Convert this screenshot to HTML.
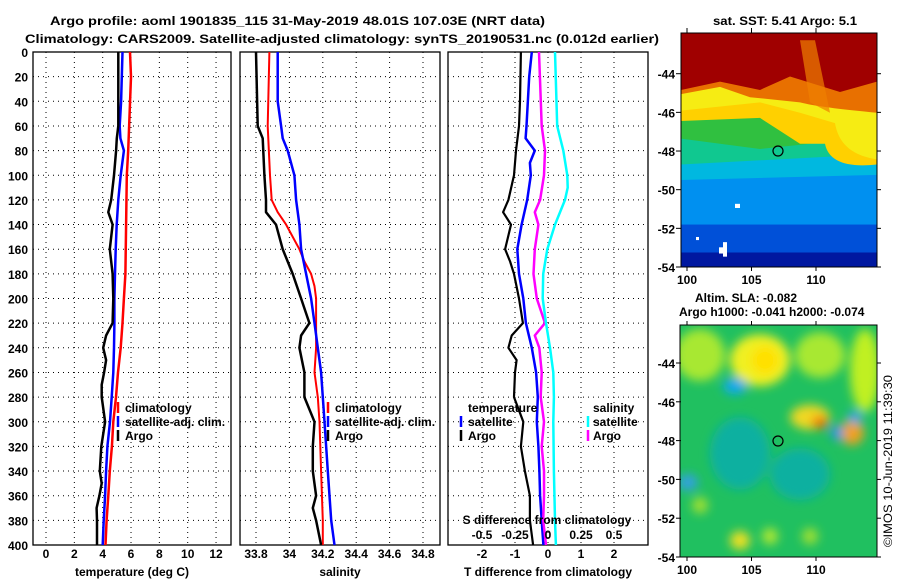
<!DOCTYPE html>
<html><head><meta charset="utf-8"><style>
html,body{margin:0;padding:0;background:#fff;}
svg{display:block;font-family:"Liberation Sans",sans-serif;font-weight:bold;}
text{font-size:12px;fill:#000;}
</style></head><body>
<svg id="c" width="900" height="580" viewBox="0 0 900 580" xmlns="http://www.w3.org/2000/svg">
<defs>
<filter id="blur4" x="-20%" y="-20%" width="140%" height="140%"><feGaussianBlur stdDeviation="5"/></filter>
<clipPath id="m1"><rect x="681" y="33" width="196" height="226"/></clipPath>
<clipPath id="m2"><rect x="680" y="316" width="197" height="224"/></clipPath>
</defs>
<text x="50" y="25" textLength="495" lengthAdjust="spacingAndGlyphs">Argo profile: aoml 1901835_115 31-May-2019 48.01S 107.03E (NRT data)</text>
<text x="25" y="43" textLength="634" lengthAdjust="spacingAndGlyphs">Climatology: CARS2009. Satellite-adjusted climatology: synTS_20190531.nc (0.012d earlier)</text>
<text x="713" y="25" textLength="144" lengthAdjust="spacingAndGlyphs">sat. SST: 5.41 Argo: 5.1</text>

<!-- SST map -->
<g transform="translate(0,33) scale(1,1.0354) translate(0,-33)">
<g clip-path="url(#m1)">
<rect x="681" y="33" width="196" height="226" fill="#0018a0"/>
<rect x="681" y="33" width="196" height="212" fill="#0050d8"/>
<rect x="681" y="33" width="196" height="185" fill="#0090f0"/>
<path d="M681,33H877V170L681,175Z" fill="#00b8e0"/>
<path d="M681,33H877V150L681,160Z" fill="#10c890"/>
<path d="M681,33H877V130Q830,135 810,140L760,145L681,135Z" fill="#30c040"/>
<path d="M681,33H877V160Q830,165 825,140L800,140L760,115L681,118Z" fill="#ffd000"/>
<path d="M681,33H877V155Q840,150 835,120L800,110L760,100L681,108Z" fill="#f0ff20" opacity="0.6"/>
<path d="M681,33H877V110Q820,105 800,100L750,95L720,85L681,92Z" fill="#e87000"/>
<path d="M681,33H877V80L840,90L790,75L760,88L720,80L681,88Z" fill="#a00000"/>
<path d="M800,40L815,40L830,110L810,100Z" fill="#f08000" opacity="0.7"/>
<rect x="735" y="198" width="5" height="4" fill="#fff"/>
<rect x="719" y="240" width="6" height="6" fill="#fff"/>
<rect x="723" y="235" width="4" height="14" fill="#fff"/>
<rect x="696" y="230" width="3" height="3" fill="#fff"/>
</g>
</g>
<rect x="681" y="33" width="196" height="234" fill="none" stroke="#000"/>
<circle cx="778" cy="151" r="5" fill="none" stroke="#000" stroke-width="1.2"/>

<text x="695" y="302">Altim. SLA: -0.082</text>
<text x="679" y="316">Argo h1000: -0.041 h2000: -0.074</text>

<!-- SLA map -->
<g transform="translate(0,325) scale(1,1.0357) translate(0,-316)">
<g clip-path="url(#m2)">
<rect x="680" y="316" width="197" height="224" fill="#20c060"/>
<g filter="url(#blur4)">
<ellipse cx="700" cy="345" rx="25" ry="25" fill="#a8e830"/>
<ellipse cx="760" cy="350" rx="30" ry="25" fill="#f0f020"/>
<ellipse cx="765" cy="350" rx="14" ry="14" fill="#ffe000"/>
<ellipse cx="820" cy="345" rx="25" ry="22" fill="#a8e830"/>
<ellipse cx="865" cy="360" rx="15" ry="40" fill="#c0f020"/>
<ellipse cx="735" cy="375" rx="12" ry="8" fill="#10a8f0"/>
<ellipse cx="810" cy="405" rx="20" ry="12" fill="#f0d820"/>
<ellipse cx="820" cy="410" rx="8" ry="6" fill="#f07000"/>
<ellipse cx="852" cy="420" rx="12" ry="12" fill="#f0a020"/>
<ellipse cx="837" cy="420" rx="6" ry="7" fill="#2090f0"/>
<ellipse cx="855" cy="405" rx="7" ry="6" fill="#30a0f0"/>
<ellipse cx="740" cy="440" rx="30" ry="35" fill="#10b0a0"/>
<ellipse cx="800" cy="460" rx="30" ry="25" fill="#10b0a0"/>
<ellipse cx="688" cy="468" rx="10" ry="8" fill="#30a0e0"/>
<ellipse cx="740" cy="524" rx="10" ry="9" fill="#f0e020"/>
<ellipse cx="770" cy="520" rx="8" ry="8" fill="#b0e830"/>
<ellipse cx="700" cy="490" rx="8" ry="8" fill="#a0e030"/>
<ellipse cx="810" cy="520" rx="8" ry="8" fill="#a0e030"/>
</g>
</g>
</g>
<rect x="680" y="325" width="197" height="232" fill="none" stroke="#000"/>
<circle cx="778" cy="441" r="5" fill="none" stroke="#000" stroke-width="1.2"/>
<text transform="translate(892,547) rotate(-90)" style="font-weight:normal" textLength="172" lengthAdjust="spacingAndGlyphs">©IMOS 10-Jun-2019 11:39:30</text>

<g id="plots"></g>
</svg>
<script>
// ---- data (depth in m) ----
const depthsTC=[0,20,80,100,140,180,200,220,240,260,280,300,320,340,360,380,400];
const tempClim=[5.93,6.0,5.8,5.7,5.65,5.6,5.5,5.4,5.27,5.08,4.94,4.75,4.65,4.5,4.4,4.28,4.2];
const depthsTS=[0,20,40,60,70,80,100,120,140,160,180,200,220,240,260,280,300,320,340,360,380,400];
const tempSat=[5.4,5.35,5.3,5.2,5.25,5.5,5.27,5.1,4.99,4.92,4.87,4.83,4.83,4.8,4.75,4.64,4.52,4.33,4.24,4.17,4.07,4.0];
const depthsTA=[0,20,40,60,70,80,100,120,130,140,160,180,200,220,230,240,250,260,270,280,300,320,340,350,360,370,380,400];
const tempArgo=[5.1,5.1,5.1,5.1,5.0,4.95,4.8,4.6,4.4,4.7,4.5,4.7,4.75,4.7,4.24,4.04,4.24,4.1,3.93,3.93,4.17,3.9,3.8,3.93,3.77,3.57,3.6,3.6];
const depthsSC=[0,60,100,120,130,140,160,170,180,190,200,240,260,280,300,340,380,400];
const salClim=[33.88,33.87,33.884,33.894,33.93,33.98,34.06,34.09,34.13,34.15,34.16,34.16,34.15,34.17,34.18,34.19,34.2,34.2];
const depthsSS=[0,40,60,70,80,100,120,140,160,180,200,220,240,260,280,300,340,380,400];
const salSat=[33.93,33.93,33.95,33.96,33.99,34.03,34.04,34.06,34.07,34.1,34.13,34.15,34.17,34.19,34.2,34.21,34.23,34.25,34.27];
const depthsSA=[0,60,70,100,120,130,140,160,180,200,220,230,240,260,280,300,320,340,360,370,380,400];
const salArgo=[33.80,33.81,33.84,33.85,33.86,33.86,33.92,33.96,34.02,34.07,34.12,34.07,34.06,34.09,34.09,34.15,34.14,34.14,34.16,34.14,34.16,34.19];
const depthsTD=[0,40,60,80,100,120,130,140,160,170,180,200,220,230,240,250,260,280,300,320,340,360,380,400];
const tDiffArgo=[-0.82,-0.85,-0.88,-0.97,-1.03,-1.2,-1.36,-1.12,-1.3,-1.15,-1.03,-0.88,-0.76,-1.1,-1.2,-0.95,-1.0,-1.03,-0.75,-0.82,-0.7,-0.55,-0.55,-0.45];
const depthsTDS=[0,20,60,70,80,90,100,120,140,160,180,200,220,240,260,280,300,320,340,360,380,400];
const tDiffSat=[-0.49,-0.57,-0.65,-0.68,-0.4,-0.55,-0.52,-0.63,-0.8,-0.93,-0.88,-0.75,-0.67,-0.49,-0.36,-0.31,-0.34,-0.29,-0.26,-0.24,-0.19,-0.14];
const depthsSD=[0,60,80,100,120,130,140,160,180,200,220,230,240,260,280,300,320,340,360,380,400];
const sDiffArgo=[-0.068,-0.048,-0.023,-0.03,-0.06,-0.1,-0.073,-0.1,-0.11,-0.085,-0.023,-0.1,-0.066,-0.048,-0.055,-0.03,-0.048,-0.03,-0.03,-0.036,-0.015];
const depthsSDS=[0,60,80,100,110,120,140,160,180,200,220,240,260,280,300,340,380,400];
const sDiffSat=[0.053,0.07,0.116,0.146,0.149,0.129,0.053,-0.005,-0.036,-0.04,-0.015,0.015,0.04,0.045,0.04,0.045,0.053,0.06];
const depthTicks=[0,20,40,60,80,100,120,140,160,180,200,220,240,260,280,300,320,340,360,380,400];
const tempTicks=[0,2,4,6,8,10,12];
const salTicks=[33.8,34,34.2,34.4,34.6,34.8];
const salTickLabels=["33.8","34","34.2","34.4","34.6","34.8"];
const tdTicks=[-2,-1,0,1,2];
const sdTicks=[-0.5,-0.25,0,0.25,0.5];
const sdTickLabels=["-0.5","-0.25","0","0.25","0.5"];
const latTicks=[-44,-46,-48,-50,-52,-54];
const lonTicks=[100,105,110];

const NS="http://www.w3.org/2000/svg";
const root=document.getElementById('plots');
function mk(tag,attrs,parent){const e=document.createElementNS(NS,tag);for(const k in attrs)e.setAttribute(k,attrs[k]);(parent||root).appendChild(e);return e;}
const Y0=52,Y1=545;
const yD=d=>Y0+d*(Y1-Y0)/400;
const xT=t=>46+t*14.17;
const xS=s=>256+(s-33.8)*167;
const xTD=t=>548+t*33;
const xSD=s=>548+s*132;

function panel(name,x0,x1,xticks,xf,labels,xlabel){
  const g=mk('g',{});
  
  
  depthTicks.forEach(d=>{if(d>0&&d<400){const l=mk('line',{x1:x0,x2:x1,y1:yD(d),y2:yD(d),stroke:'#000','stroke-dasharray':'1,4'},g);
  
  }});
  xticks.forEach((t,i)=>{const x=xf(t);const l=mk('line',{x1:x,x2:x,y1:Y0,y2:Y1,stroke:'#000','stroke-dasharray':'1,4'},g);
  
  
  if(labels){const tx=mk('text',{x:x,y:558,'text-anchor':'middle'},g);tx.textContent=labels[i];
  
  }});
  const r=mk('rect',{x:x0,y:Y0,width:x1-x0,height:Y1-Y0,fill:'none',stroke:'#000','stroke-width':1.3},g);
  
  
  const xl=mk('text',{x:(x0+x1)/2,y:576,'text-anchor':'middle'},g);xl.textContent=xlabel;
  
  
  return g;
}
function series(name,depths,vals,xf,color,w){
  const pts=depths.map((d,i)=>xf(vals[i]).toFixed(1)+','+yD(d).toFixed(1)).join(' ');
  const p=mk('polyline',{points:pts,fill:'none',stroke:color,'stroke-width':w,'stroke-linejoin':'round'});
  
  
}
function txt(s,x,y,anchor,name){const t=mk('text',{x:x,y:y,'text-anchor':anchor||'start'});t.textContent=s;
  
  return t;}
function mark(x,y,color,name){const l=mk('line',{x1:x,x2:x,y1:y-11,y2:y,stroke:color,'stroke-width':2.5});
  
  }

panel('temperature-panel',33,231,tempTicks,xT,tempTicks.map(String),'temperature (deg C)');
panel('salinity-panel',240,440,salTicks,xS,salTickLabels,'salinity');
panel('difference-panel',448,648,tdTicks,xTD,tdTicks.map(String),'T difference from climatology');
depthTicks.forEach(d=>txt(String(d),28,yD(d)+5,'end','depth-tick-label'));

series('temp-climatology-line',depthsTC,tempClim,xT,'#f00',2.5);
series('temp-satellite-line',depthsTS,tempSat,xT,'#00f',2.5);
series('temp-argo-line',depthsTA,tempArgo,xT,'#000',2.5);
series('sal-climatology-line',depthsSC,salClim,xS,'#f00',2);
series('sal-satellite-line',depthsSS,salSat,xS,'#00f',2.5);
series('sal-argo-line',depthsSA,salArgo,xS,'#000',2.5);
series('tdiff-argo-line',depthsTD,tDiffArgo,xTD,'#000',2.2);
series('tdiff-satellite-line',depthsTDS,tDiffSat,xTD,'#00f',2.5);
series('sdiff-argo-line',depthsSD,sDiffArgo,xSD,'#f0f',2.5);
series('sdiff-satellite-line',depthsSDS,sDiffSat,xSD,'#0ff',2.5);

// legends
[[118,125],[328,335]].forEach(([mx,tx])=>{
  mark(mx,413,'#f00','legend-climatology-marker');txt('climatology',tx,412,'start','legend-climatology');
  mark(mx,427,'#00f','legend-satellite-marker');txt('satellite-adj. clim.',tx,426,'start','legend-satellite-adj');
  mark(mx,441,'#000','legend-argo-marker');txt('Argo',tx,440,'start','legend-argo');
});
txt('temperature',468,412,'start','legend-temperature-title');
mark(461,427,'#00f','legend-tsat-marker');txt('satellite',468,426,'start','legend-t-satellite');
mark(461,441,'#000','legend-targo-marker');txt('Argo',468,440,'start','legend-t-argo');
txt('salinity',593,412,'start','legend-salinity-title');
mark(588,427,'#0ff','legend-ssat-marker');txt('satellite',593,426,'start','legend-s-satellite');
mark(588,441,'#f0f','legend-sargo-marker');txt('Argo',593,440,'start','legend-s-argo');
txt('S difference from climatology',547,524,'middle','s-axis-title');
sdTicks.forEach((s,i)=>txt(sdTickLabels[i],xSD(s),539,'middle','s-tick-label'));

// map axes
const yLat1=l=>267-(l+54)*19.33, yLat2=l=>557-(l+54)*19.4, xLon=l=>687+(l-100)*12.9;
latTicks.forEach(l=>{
  txt(String(l),675,yLat1(l)+5,'end','sst-lat-label');
  txt(String(l),675,yLat2(l)+5,'end','sla-lat-label');
  [yLat1(l),yLat2(l)].forEach(y=>{const t=mk('line',{x1:877,x2:881,y1:y,y2:y,stroke:'#000'});
  
  
  const t2=mk('line',{x1:676,x2:681,y1:y,y2:y,stroke:'#000'});
  
  });
});
lonTicks.forEach(l=>{
  txt(String(l),xLon(l),284,'middle','sst-lon-label');
  txt(String(l),xLon(l),574,'middle','sla-lon-label');
  [[28,33],[267,271],[321,325],[557,561]].forEach(([a,b])=>{const t=mk('line',{x1:xLon(l),x2:xLon(l),y1:a,y2:b,stroke:'#000'});
  
  });
});
</script>
</body></html>
